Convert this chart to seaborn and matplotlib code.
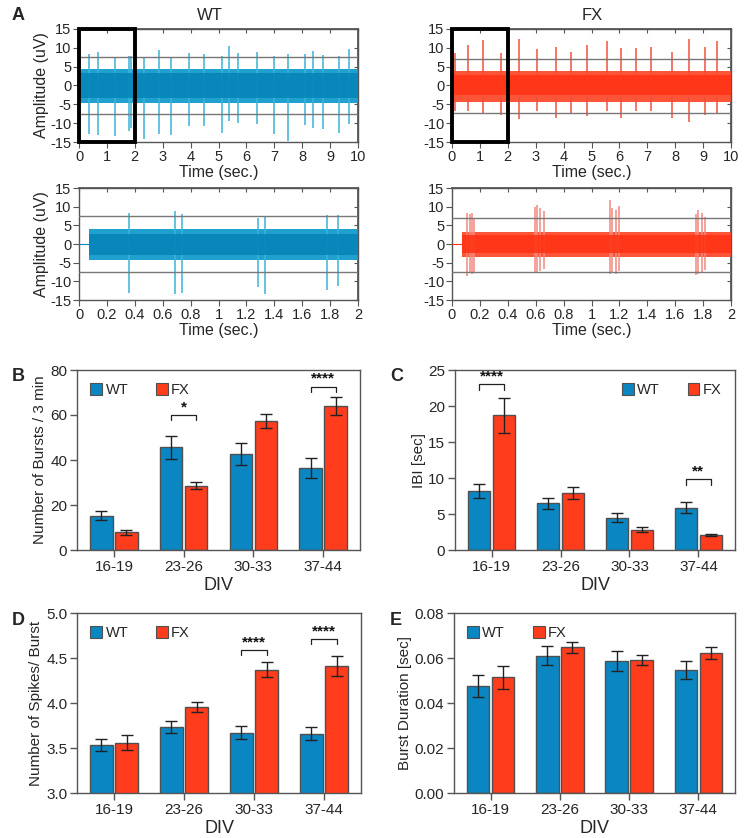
import matplotlib
matplotlib.use('Agg')
import matplotlib.pyplot as plt
from matplotlib.patches import Rectangle, Patch
import pandas as pd
import seaborn as sns

sns.set_theme(style='ticks')
plt.rcParams['font.family'] = ['Liberation Sans', 'DejaVu Sans']
plt.rcParams['axes.unicode_minus'] = False

# ---------------- data ----------------
categories = ['16-19', '23-26', '30-33', '37-44']
groups = ['WT', 'FX']

bursts_wt = [15.3, 45.6, 42.5, 36.3]
bursts_wt_err = [2.0, 5.0, 4.9, 4.4]
bursts_fx = [7.8, 28.6, 57.3, 63.9]
bursts_fx_err = [1.0, 1.6, 3.2, 4.0]

ibi_wt = [8.2, 6.5, 4.5, 5.9]
ibi_wt_err = [1.0, 0.77, 0.6, 0.74]
ibi_fx = [18.7, 7.9, 2.8, 2.1]
ibi_fx_err = [2.4, 0.8, 0.35, 0.18]

spk_wt = [3.53, 3.73, 3.67, 3.66]
spk_wt_err = [0.065, 0.065, 0.075, 0.07]
spk_fx = [3.56, 3.96, 4.37, 4.41]
spk_fx_err = [0.085, 0.055, 0.085, 0.115]

dur_wt = [0.0476, 0.0610, 0.0586, 0.0547]
dur_wt_err = [0.0048, 0.0042, 0.0043, 0.0040]
dur_fx = [0.0514, 0.0647, 0.0592, 0.0623]
dur_fx_err = [0.0052, 0.0026, 0.0022, 0.0027]

# significance: (category index, bracket height, drop, label)
sig_bursts = [(1, 60.0, 2.4, '*'), (3, 72.6, 2.6, '****')]
sig_ibi = [(0, 23.0, 0.8, '****'), (3, 9.8, 0.75, '**')]
sig_spk = [(2, 4.59, 0.06, '****'), (3, 4.71, 0.06, '****')]
sig_dur = []

# recorded traces: spike times (s), positive peak and negative peak (uV)
wt_top_t = [0.35, 0.68, 1.30, 1.80, 1.86, 2.34, 2.86, 3.30, 3.95, 4.47, 5.13, 5.39,
            5.69, 6.38, 6.98, 7.50, 8.09, 8.40, 8.76, 9.33, 9.69]
wt_top_up = [8.3, 8.9, 7.2, 7.8, 7.8, 7.4, 9.4, 7.6, 8.5, 8.3, 7.9, 10.4,
             8.5, 8.8, 7.7, 8.4, 8.3, 9.2, 8.2, 7.7, 9.6]
wt_top_dn = [-12.9, -13.2, -13.4, -12.2, -11.2, -14.2, -12.9, -13.2, -10.7, -10.7, -12.5, -9.4,
             -9.9, -10.3, -12.9, -14.7, -10.4, -11.4, -11.6, -12.6, -10.3]

fx_top_t = [0.10, 0.59, 1.12, 1.74, 2.40, 3.06, 3.72, 4.28, 4.83, 5.57, 6.05, 6.61,
            7.14, 7.90, 8.49, 9.06, 9.51]
fx_top_up = [8.5, 10.7, 12.0, 8.5, 12.3, 9.6, 10.3, 8.8, 10.8, 11.9, 9.9, 9.9,
             10.1, 8.8, 12.3, 10.1, 11.7]
fx_top_dn = [-6.7, -6.9, -7.2, -7.8, -8.9, -6.9, -8.5, -7.6, -8.2, -6.9, -8.5, -6.9,
             -6.7, -8.5, -9.8, -7.8, -7.2]

wt_bot_t = [0.356, 0.688, 0.738, 1.281, 1.333, 1.775, 1.857]
wt_bot_up = [8.2, 8.9, 8.0, 7.0, 7.1, 7.8, 7.9]
wt_bot_dn = [-13.1, -13.4, -13.0, -11.4, -13.4, -12.3, -11.2]

fx_bot_t = [0.110, 0.127, 0.141, 0.160, 0.595, 0.612, 0.628, 0.660,
            1.133, 1.149, 1.173, 1.197, 1.747, 1.766, 1.790, 1.813]
fx_bot_up = [8.2, 8.0, 8.2, 6.7, 10.0, 10.5, 9.6, 8.9,
             11.8, 9.6, 9.1, 10.2, 8.0, 9.1, 8.2, 7.1]
fx_bot_dn = [-8.7, -7.6, -8.0, -7.4, -7.6, -7.9, -7.2, -6.8,
             -8.0, -7.8, -8.0, -7.2, -8.2, -8.0, -7.6, -7.0]

# noise band: (outer hi, outer lo, core hi, core lo)
wt_top_band = [4.3, -4.6, 3.2, -3.2]
fx_top_band = [3.9, -4.4, 2.8, -2.6]
wt_bot_band = [4.0, -4.2, 2.8, -3.0]
fx_bot_band = [3.2, -3.6, 2.4, -2.5]

thr_wt_top = [7.5, -7.6]
thr_fx_top = [7.0, -7.3]
thr_wt_bot = [7.5, -7.4]
thr_fx_bot = [6.9, -7.5]

# ---------------- style ----------------
WT_C = '#0A87C2'
FX_C = '#FF3C1C'
WT_TR = '#0787BA'
WT_TR_EDGE = '#1FA0CE'
WT_SPIKE = '#3AB3D8'
FX_TR = '#FF3718'
FX_TR_EDGE = '#FB5437'
FX_SPIKE = '#F2503A'
SPINE = '#555555'

W, H = 746, 838
fig = plt.figure(figsize=(W / 100, H / 100), dpi=100)


def rect(x0, y0, x1, y1):
    return [x0 / W, 1 - y1 / H, (x1 - x0) / W, (y1 - y0) / H]


def style_spines(ax):
    for s in ax.spines.values():
        s.set_visible(True)
        s.set_color(SPINE)
        s.set_linewidth(1.0)


def trace_panel(r, t_end, xt, xtl, t, up, dn, band, thr, core, edge, spike_c,
                start=0.0, ylabel=None, box=False):
    ax = fig.add_axes(r)
    ax.set_xlim(0, t_end)
    ax.set_ylim(-15, 15)
    ax.fill_between([start, t_end], band[1], band[0], color=edge, lw=0, zorder=2)
    ax.fill_between([start, t_end], band[3], band[2], color=core, lw=0, zorder=3)
    if start > 0:
        ax.plot([0, start], [0, 0], color=core, lw=0.8, zorder=3)
    ax.vlines(t, dn, up, color=spike_c, lw=1.1, zorder=4)
    ax.vlines(t, [band[3]] * len(t), [band[2]] * len(t), color=core, lw=1.3, zorder=4)
    for v in thr:
        ax.axhline(v, color='#777777', lw=1.0, zorder=5)
    ax.set_xticks(xt)
    ax.set_xticklabels(xtl)
    ax.set_yticks([-15, -10, -5, 0, 5, 10, 15])
    ax.set_yticklabels(['-15', '-10', '-5', '0', '5', '10', '15'])
    ax.tick_params(labelsize=10.5, length=4, width=0.8, color=SPINE, pad=1.5, direction='out')
    sx = ax.secondary_xaxis('top')
    sx.set_xticks(xt, labels=[])
    sx.tick_params(direction='in', length=3, width=0.8, color=SPINE)
    sx.spines['top'].set_color(SPINE)
    sy = ax.secondary_yaxis('right')
    sy.set_yticks([-15, -10, -5, 0, 5, 10, 15], labels=[])
    sy.tick_params(direction='in', length=3, width=0.8, color=SPINE)
    sy.spines['right'].set_color(SPINE)
    style_spines(ax)
    ax.set_xlabel('Time (sec.)', fontsize=11.5, labelpad=1)
    if ylabel:
        ax.set_ylabel(ylabel, fontsize=11.5, labelpad=1)
    if box:
        ax.add_patch(Rectangle((0, -15), 2, 30, fill=False, ec='black', lw=2.8,
                               zorder=10, clip_on=False))
    return ax


xt10 = list(range(11))
xtl10 = [str(v) for v in xt10]
xt2 = [0, 0.2, 0.4, 0.6, 0.8, 1.0, 1.2, 1.4, 1.6, 1.8, 2.0]
xtl2 = ['0', '0.2', '0.4', '0.6', '0.8', '1', '1.2', '1.4', '1.6', '1.8', '2']

trace_panel(rect(79, 29, 358, 142), 10, xt10, xtl10, wt_top_t, wt_top_up, wt_top_dn,
            wt_top_band, thr_wt_top, WT_TR, WT_TR_EDGE, WT_SPIKE, ylabel='Amplitude (uV)', box=True)
trace_panel(rect(452, 29, 731, 142), 10, xt10, xtl10, fx_top_t, fx_top_up, fx_top_dn,
            fx_top_band, thr_fx_top, FX_TR, FX_TR_EDGE, FX_SPIKE, box=True)
trace_panel(rect(79, 188, 358, 300), 2, xt2, xtl2, wt_bot_t, wt_bot_up, wt_bot_dn,
            wt_bot_band, thr_wt_bot, WT_TR, WT_TR_EDGE, WT_SPIKE, start=0.07, ylabel='Amplitude (uV)')
trace_panel(rect(452, 188, 731, 300), 2, xt2, xtl2, fx_bot_t, fx_bot_up, fx_bot_dn,
            fx_bot_band, thr_fx_bot, FX_TR, FX_TR_EDGE, '#F08A80', start=0.07)


def bar_panel(r, wt, wte, fx, fxe, ylim, yt, ytl, ylabel, loc, sig):
    ax = fig.add_axes(r)
    df = pd.DataFrame({'DIV': categories * 2,
                       'group': ['WT'] * len(categories) + ['FX'] * len(categories),
                       'value': wt + fx})
    sns.barplot(data=df, x='DIV', y='value', hue='group', hue_order=groups,
                palette={'WT': WT_C, 'FX': FX_C}, errorbar=None, width=0.72, gap=0.1,
                edgecolor='#505050', linewidth=1.0, saturation=1, legend=False, ax=ax)
    bars = list(ax.patches)
    xs = [p.get_x() + p.get_width() / 2 for p in bars]
    hs = [p.get_height() for p in bars]
    ax.errorbar(xs, hs, yerr=wte + fxe, fmt='none', ecolor='#222222', elinewidth=1.0,
                capsize=4, capthick=1.0, zorder=5)
    n = len(categories)
    for ci, h, d, lab in sig:
        x0, x1 = xs[ci], xs[ci + n]
        ax.plot([x0, x0, x1, x1], [h - d, h, h, h - d], color='#222222', lw=0.9)
        ax.text((x0 + x1) / 2, h + d * 0.15, lab, ha='center', va='bottom',
                fontsize=11, fontweight='bold', color='#111111')
    ax.set_xlim(-0.53, 3.53)
    ax.set_ylim(*ylim)
    ax.set_yticks(yt)
    ax.set_yticklabels(ytl)
    ax.tick_params(labelsize=11, length=5, width=1.0, color=SPINE, pad=2)
    ax.set_xlabel('DIV', fontsize=13, labelpad=2)
    ax.set_ylabel(ylabel, fontsize=11, labelpad=2)
    style_spines(ax)
    handles = [Patch(facecolor=WT_C, edgecolor='#505050', lw=0.8),
               Patch(facecolor=FX_C, edgecolor='#505050', lw=0.8)]
    ax.legend(handles, groups, loc=loc, ncol=2, frameon=False, fontsize=10.5,
              handlelength=0.8, handleheight=0.8, handletextpad=0.25,
              columnspacing=1.9, borderaxespad=0.5)
    return ax


bar_panel(rect(77, 370, 360, 550), bursts_wt, bursts_wt_err, bursts_fx, bursts_fx_err,
          (0, 80), [0, 20, 40, 60, 80], ['0', '20', '40', '60', '80'],
          'Number of Bursts / 3 min', 'upper left', sig_bursts)
bar_panel(rect(455, 370, 735, 550), ibi_wt, ibi_wt_err, ibi_fx, ibi_fx_err,
          (0, 25), [0, 5, 10, 15, 20, 25], ['0', '5', '10', '15', '20', '25'],
          'IBI [sec]', 'upper right', sig_ibi)
bar_panel(rect(77, 613, 361, 793), spk_wt, spk_wt_err, spk_fx, spk_fx_err,
          (3.0, 5.0), [3.0, 3.5, 4.0, 4.5, 5.0], ['3.0', '3.5', '4.0', '4.5', '5.0'],
          'Number of Spikes/ Burst', 'upper left', sig_spk)
bar_panel(rect(454, 613, 735, 793), dur_wt, dur_wt_err, dur_fx, dur_fx_err,
          (0, 0.08), [0, 0.02, 0.04, 0.06, 0.08], ['0.00', '0.02', '0.04', '0.06', '0.08'],
          'Burst Duration [sec]', 'upper left', sig_dur)


def ftext(x, y, s, **kw):
    fig.text(x / W, 1 - y / H, s, **kw)


ftext(12, 15, 'A', fontsize=13, fontweight='bold', va='center', ha='left')
ftext(12, 376, 'B', fontsize=13, fontweight='bold', va='center', ha='left')
ftext(390, 376, 'C', fontsize=13, fontweight='bold', va='center', ha='left')
ftext(12, 620, 'D', fontsize=13, fontweight='bold', va='center', ha='left')
ftext(390, 620, 'E', fontsize=13, fontweight='bold', va='center', ha='left')
ftext(210, 15, 'WT', fontsize=12, va='center', ha='center')
ftext(592, 15, 'FX', fontsize=12, va='center', ha='center')

fig.savefig('out.png', dpi=100)
